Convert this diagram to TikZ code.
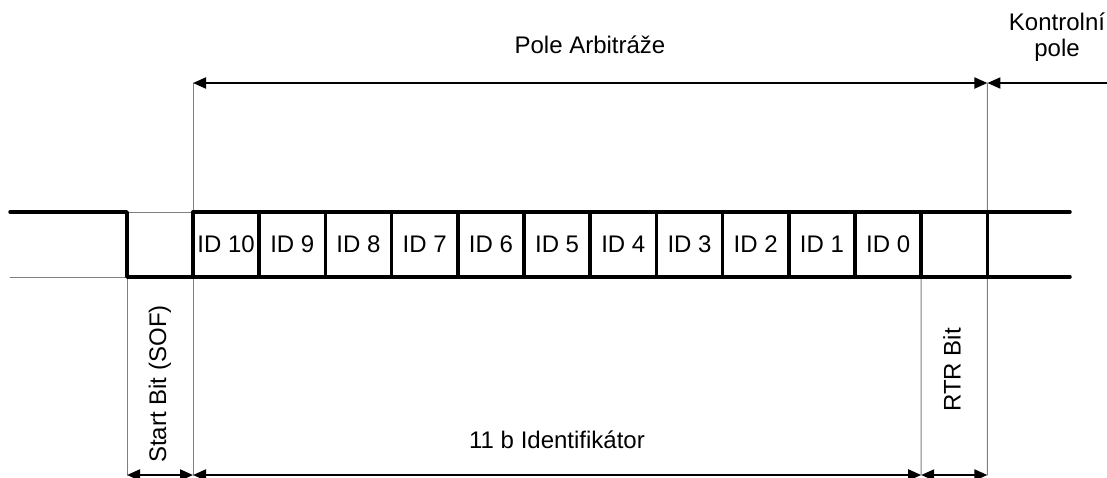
\documentclass[tikz,border=0pt]{standalone}
\usepackage{fontspec}
\setmainfont{Liberation Sans}
\usetikzlibrary{arrows.meta}
\begin{document}
\begin{tikzpicture}[x=1pt,y=-1pt,line cap=round,line join=round,font=\fontsize{24}{26}\selectfont,
	sig/.style={line width=3.5pt},
	hlp/.style={line width=1pt,draw=gray},
	dimline/.style={line width=2pt,line cap=butt,{Triangle[length=13pt,width=11pt]}-{Triangle[length=13pt,width=11pt]}}]
	\useasboundingbox (0,0) rectangle (1107,477);
	\def\w{66.2}
	% bit boundaries
	\foreach \i in {0,...,12}{\coordinate (t\i) at (193+\i*\w,212);\coordinate (b\i) at (193+\i*\w,277);}
	\coordinate (lt) at (10,212);\coordinate (lb) at (10,277);
	\coordinate (st) at (127,212);\coordinate (sb) at (127,277);
	\coordinate (rt) at (1070,212);\coordinate (rb) at (1070,277);
	\coordinate (a0) at (193,83);\coordinate (a1) at (987.4,83);\coordinate (k0) at (1107,83);
	\coordinate (s0) at (127,475);\coordinate (s1) at (193,475);\coordinate (s2) at (921.2,475);\coordinate (s3) at (987.4,475);
	% helper lines
	\draw[hlp] (st) -- (t0);\draw[hlp] (lb) -- (sb);
	\draw[hlp] (t0) -- (a0);\draw[hlp] (t12) -- (a1);
	\draw[hlp] (sb) -- (s0);\draw[hlp] (b0) -- (s1);\draw[hlp] (b11) -- (s2);\draw[hlp] (b12) -- (s3);
	% signal
	\draw[sig] (lt) -- (st) -- (sb) -- (b0) -- (rb);
	\draw[sig] (t0) -- (rt);
	\foreach \i in {0,...,12}{\draw[sig] (t\i) -- (b\i);}
	\foreach \i in {0,...,10}{\pgfmathtruncatemacro{\n}{10-\i}
		\node[anchor=base] (id\n) at (193+\i*\w+\w/2,252) {ID \n};}
	% dimensions
	\draw[dimline] (a0) -- (a1);
	\draw[line width=2pt,-{Triangle[length=13pt,width=11pt]}] (k0) -- (a1);
	\draw[dimline] (s0) -- (s1);\draw[dimline] (s1) -- (s2);\draw[dimline] (s2) -- (s3);
	\node[anchor=base] (arb) at (590,53) {Pole Arbitráže};
	\node[align=center] (ktrl) at (1057,37) {Kontrolní\\pole};
	\node[anchor=base] (ident) at (557,448) {11 b Identifikátor};
	\node[rotate=90] (sof) at (160,384) {Start Bit (SOF)};
	\node[rotate=90] (rtr) at (952,370) {RTR Bit};
\end{tikzpicture}
\end{document}
